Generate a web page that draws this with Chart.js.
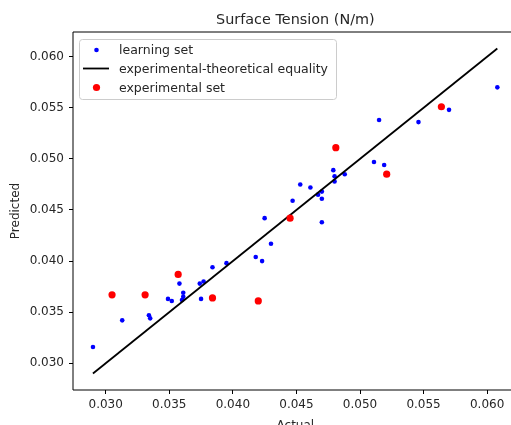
<!DOCTYPE html>
<html>
<head>
<meta charset="utf-8">
<script src="https://cdn.jsdelivr.net/npm/chart.js@4.4.1/dist/chart.umd.min.js"></script>
<style>
  html, body { margin: 0; padding: 0; background: #fff; overflow: hidden; }
  canvas { display: block; }
</style>
</head>
<body>
<canvas id="tensionChart" width="511" height="425"></canvas>
<script>
// values
const learnActual = [0.0290, 0.0313, 0.0334, 0.0335, 0.0349, 0.0352, 0.0358, 0.0360, 0.0361, 0.0361,
  0.0374, 0.0375, 0.0377, 0.0384, 0.0395, 0.0418, 0.0423, 0.0425, 0.0430, 0.0447,
  0.0453, 0.0461, 0.0467, 0.0470, 0.0470, 0.0470, 0.0479, 0.0480, 0.0480, 0.0488,
  0.0511, 0.0515, 0.0519, 0.0546, 0.0570, 0.0608];
const learnPredicted = [0.0316, 0.0342, 0.0347, 0.0344, 0.0363, 0.0361, 0.0378, 0.0362, 0.0365, 0.0369,
  0.0378, 0.0363, 0.0380, 0.0394, 0.0398, 0.0404, 0.0400, 0.0442, 0.0417, 0.0459,
  0.0475, 0.0472, 0.0465, 0.0468, 0.0461, 0.0438, 0.0489, 0.0483, 0.0478, 0.0485,
  0.0497, 0.0538, 0.0494, 0.0536, 0.0548, 0.0570];
const expActual = [0.0305, 0.0331, 0.0357, 0.0384, 0.0420, 0.0445, 0.0481, 0.0521, 0.0564];
const expPredicted = [0.0367, 0.0367, 0.0387, 0.0364, 0.0361, 0.0442, 0.0511, 0.0485, 0.0551];
const equalityLine = [0.0290, 0.0608];
const xTicks = [0.030, 0.035, 0.040, 0.045, 0.050, 0.055, 0.060];
const yTicks = [0.030, 0.035, 0.040, 0.045, 0.050, 0.055, 0.060];

const toPoints = (xs, ys) => xs.map((x, i) => ({ x: x, y: ys[i] }));

const FONT = 'DejaVu Sans';
const TEXT = '#262626';

// frame, title, axis titles and legend drawn like the original
const decorPlugin = {
    id: 'decor',
    afterDatasetsDraw(chart) {
        const ctx = chart.ctx;
        const a = chart.chartArea;
        ctx.save();
        ctx.strokeStyle = '#000';
        ctx.lineWidth = 1;
        ctx.beginPath();
        ctx.moveTo(a.left, a.top);
        ctx.lineTo(chart.width + 2, a.top);
        ctx.moveTo(a.left, a.top);
        ctx.lineTo(a.left, a.bottom);
        ctx.lineTo(chart.width + 2, a.bottom);
        ctx.stroke();
        ctx.restore();
    },
    afterDraw(chart) {
        const ctx = chart.ctx;
        const a = chart.chartArea;
        // full axes reach a bit past the visible right edge
        const fullRight = chart.scales.x.getPixelForValue(0.0624);
        const midX = (a.left + fullRight) / 2;
        ctx.save();
        ctx.fillStyle = TEXT;
        ctx.textAlign = 'center';
        ctx.textBaseline = 'alphabetic';
        ctx.font = '14.4px "' + FONT + '"';
        ctx.fillText('Surface Tension (N/m)', midX, 24);
        ctx.font = '12px "' + FONT + '"';
        ctx.textBaseline = 'top';
        ctx.fillText('Actual', midX, 420);
        ctx.translate(16, (a.top + a.bottom) / 2);
        ctx.rotate(-Math.PI / 2);
        ctx.textBaseline = 'middle';
        ctx.fillText('Predicted', 0, 0);
        ctx.restore();

        // legend
        const ds = chart.data.datasets;
        ctx.save();
        ctx.globalAlpha = 0.8;
        ctx.fillStyle = '#fff';
        ctx.strokeStyle = '#cccccc';
        ctx.lineWidth = 1;
        ctx.beginPath();
        ctx.roundRect(79.5, 39.5, 257, 60, 3);
        ctx.fill();
        ctx.globalAlpha = 1;
        ctx.stroke();
        const rows = [50, 68.5, 87.5];
        ctx.font = '12.5px "' + FONT + '"';
        ctx.textAlign = 'left';
        ctx.textBaseline = 'middle';
        ds.forEach((d, i) => {
            const y = rows[i];
            if (d.showLine) {
                ctx.strokeStyle = d.borderColor;
                ctx.lineWidth = d.borderWidth;
                ctx.beginPath();
                ctx.moveTo(83, y);
                ctx.lineTo(109, y);
                ctx.stroke();
            } else {
                ctx.fillStyle = d.backgroundColor;
                ctx.beginPath();
                ctx.arc(96.5, y, d.pointRadius, 0, Math.PI * 2);
                ctx.fill();
            }
            ctx.fillStyle = TEXT;
            ctx.fillText(d.label, 119, y + 1);
        });
        ctx.restore();
    }
};

const ctx = document.getElementById('tensionChart').getContext('2d');
const chart = new Chart(ctx, {
    type: 'scatter',
    data: {
        datasets: [{
            label: 'learning set',
            data: toPoints(learnActual, learnPredicted),
            backgroundColor: '#0000ff',
            borderWidth: 0,
            pointRadius: 2.3,
            order: 3
        }, {
            label: 'experimental-theoretical equality',
            type: 'line',
            data: toPoints(equalityLine, equalityLine),
            showLine: true,
            borderColor: '#000000',
            borderWidth: 1.8,
            pointRadius: 0,
            fill: false,
            order: 2
        }, {
            label: 'experimental set',
            data: toPoints(expActual, expPredicted),
            backgroundColor: '#ff0000',
            borderWidth: 0,
            pointRadius: 3.6,
            order: 1
        }]
    },
    options: {
        responsive: false,
        animation: false,
        devicePixelRatio: 1,
        layout: { padding: { top: 32, left: 0, right: 0, bottom: 0 } },
        plugins: {
            legend: { display: false },
            title: { display: false },
            tooltip: { enabled: false }
        },
        scales: {
            x: {
                type: 'linear',
                min: 0.02743,
                max: 0.06156,
                afterFit: (scale) => { scale.height = 35; },
                afterBuildTicks: (scale) => { scale.ticks = xTicks.map(v => ({ value: v })); },
                grid: { drawOnChartArea: false, drawTicks: true, tickLength: 4, tickColor: '#000', tickWidth: 1 },
                border: { display: false },
                ticks: {
                    padding: 4,
                    color: TEXT,
                    font: { family: FONT, size: 12 },
                    maxRotation: 0,
                    callback: (v) => v.toFixed(3)
                }
            },
            y: {
                type: 'linear',
                min: 0.027387,
                max: 0.062416,
                afterFit: (scale) => { scale.width = 73; },
                afterBuildTicks: (scale) => { scale.ticks = yTicks.map(v => ({ value: v })); },
                grid: { drawOnChartArea: false, drawTicks: true, tickLength: 4, tickColor: '#000', tickWidth: 1 },
                border: { display: false },
                ticks: {
                    padding: 5,
                    color: TEXT,
                    font: { family: FONT, size: 12 },
                    callback: (v) => v.toFixed(3)
                }
            }
        }
    },
    plugins: [decorPlugin]
});
</script>
</body>
</html>
